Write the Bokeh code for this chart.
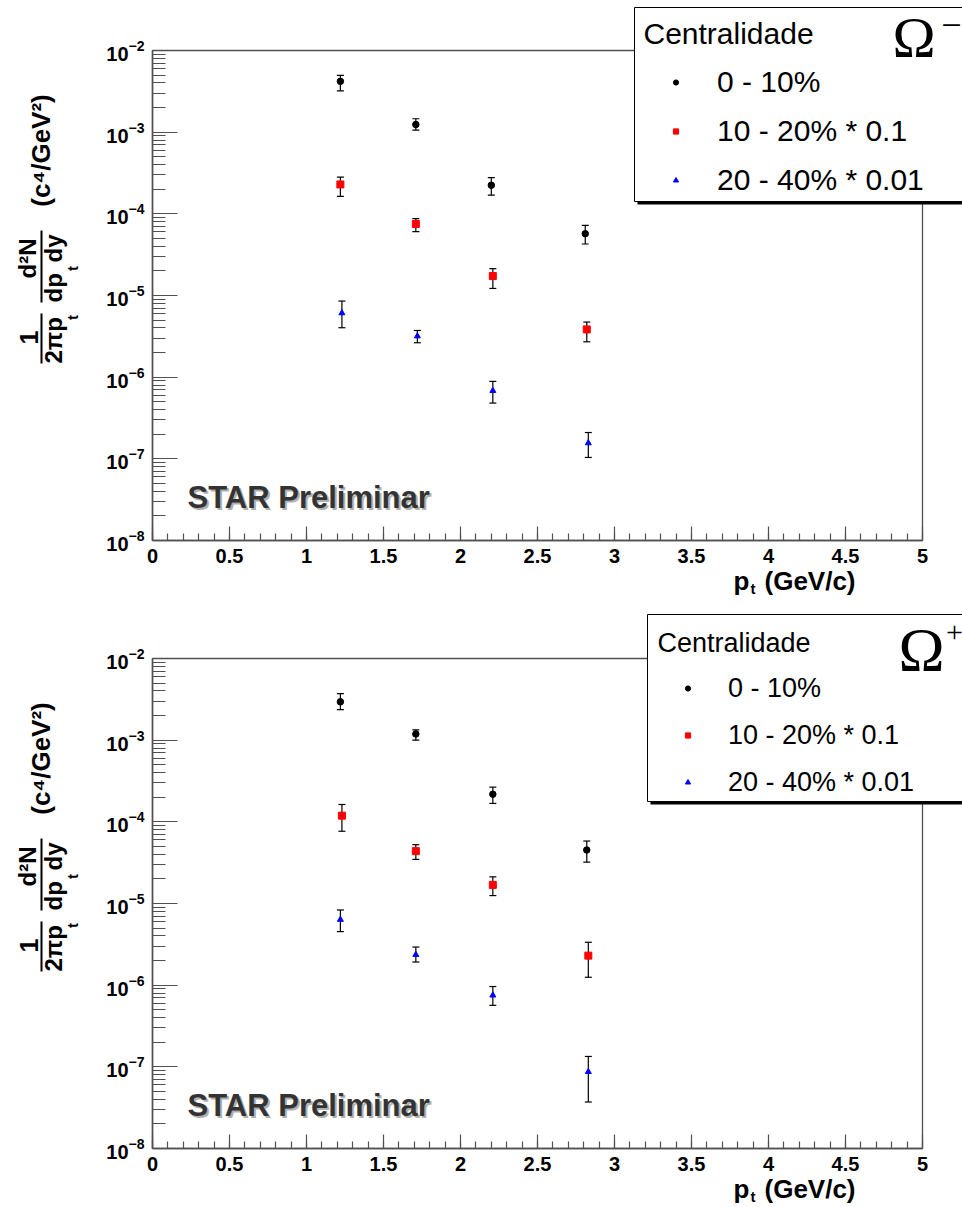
import math
from bokeh.plotting import figure
from bokeh.layouts import column
from bokeh.models import (Range1d, FixedTicker, Whisker, TeeHead, ColumnDataSource,
                          Label, BoxAnnotation, Legend, LegendItem, NumeralTickFormatter,
                          LinearAxis, LogAxis)
from bokeh.embed import file_html
from bokeh.resources import INLINE

# ---------------- data ----------------
x_ticks = [0, 0.5, 1, 1.5, 2, 2.5, 3, 3.5, 4, 4.5, 5]
y_ticks = [1e-8, 1e-7, 1e-6, 1e-5, 1e-4, 1e-3, 1e-2]
legend_labels = ["0 - 10%", "10 - 20% * 0.1", "20 - 40% * 0.01"]
legend_title = "Centralidade"

# Omega-minus (top panel)
om_pt_c0 = [1.22, 1.71, 2.20, 2.81]
om_c0 = [4.19e-3, 1.24e-3, 2.24e-4, 5.71e-5]
om_c0_hi = [4.97e-3, 1.46e-3, 2.77e-4, 7.23e-5]
om_c0_lo = [3.21e-3, 1.06e-3, 1.69e-4, 4.27e-5]
om_pt_c1 = [1.22, 1.71, 2.21, 2.82]
om_c1 = [2.29e-4, 7.52e-5, 1.73e-5, 3.84e-6]
om_c1_hi = [2.82e-4, 8.73e-5, 2.13e-5, 4.73e-6]
om_c1_lo = [1.64e-4, 6.05e-5, 1.22e-5, 2.71e-6]
om_pt_c2 = [1.23, 1.72, 2.21, 2.83]
om_c2 = [6.10e-6, 3.18e-6, 6.83e-7, 1.56e-7]
om_c2_hi = [8.55e-6, 3.73e-6, 8.88e-7, 2.10e-7]
om_c2_lo = [4.03e-6, 2.64e-6, 4.82e-7, 1.04e-7]

# Omega-plus (bottom panel)
op_pt_c0 = [1.22, 1.71, 2.21, 2.82]
op_c0 = [2.95e-3, 1.19e-3, 2.18e-4, 4.52e-5]
op_c0_hi = [3.71e-3, 1.34e-3, 2.66e-4, 5.82e-5]
op_c0_lo = [2.36e-3, 1.00e-3, 1.68e-4, 3.21e-5]
op_pt_c1 = [1.23, 1.71, 2.21, 2.83]
op_c1 = [1.19e-4, 4.38e-5, 1.69e-5, 2.30e-6]
op_c1_hi = [1.63e-4, 5.25e-5, 2.12e-5, 3.35e-6]
op_c1_lo = [7.67e-5, 3.47e-5, 1.25e-5, 1.25e-6]
op_pt_c2 = [1.22, 1.71, 2.21, 2.83]
op_c2 = [6.35e-6, 2.36e-6, 7.52e-7, 8.69e-8]
op_c2_hi = [8.33e-6, 2.93e-6, 9.62e-7, 1.34e-7]
op_c2_lo = [4.53e-6, 1.92e-6, 5.66e-7, 3.71e-8]

FONT = "Liberation Sans"
SERIF = "Liberation Serif"
AX = "#505050"

# layout (pixels): plot box inside each figure
W = 962
BOX_L, BOX_R = 152, 922          # x = 0 .. 5
BOX_T, BOX_B = 50, 540           # y = 1e-2 .. 1e-8 (from figure top)
PX_X = (BOX_R - BOX_L) / 5.0
PX_DEC = (BOX_B - BOX_T) / 6.0


def panel(H, series, leg, omega):
    ox, oy = BOX_L, H - BOX_B   # offsets: plot-box-relative -> frame screen units

    def lab(x, y, text, size, bold=True, angle=0.0, align="left", baseline="middle",
            color="black", font=FONT):
        p.add_layout(Label(x=x + ox, y=y + oy, x_units="screen", y_units="screen",
                           text=text, angle=angle, text_font=font,
                           text_font_style="bold" if bold else "normal",
                           text_font_size=f"{size}px", text_align=align,
                           text_baseline=baseline, text_color=color))

    def sbox(l, r, b, t, fill, line=None, lw=1):
        p.add_layout(BoxAnnotation(left=l + ox, right=r + ox, bottom=b + oy, top=t + oy,
                                   left_units="screen", right_units="screen",
                                   bottom_units="screen", top_units="screen",
                                   fill_color=fill, fill_alpha=1.0,
                                   line_color=line if line else "black",
                                   line_alpha=1.0 if line else 0.0,
                                   line_width=lw, level="annotation"))

    x0 = -BOX_L / PX_X
    x1 = 5 + (W - BOX_R) / PX_X
    ytop = 10 ** (-2 + BOX_T / PX_DEC)
    ybot = 10 ** (-8 - (H - BOX_B) / PX_DEC)
    p = figure(width=W, height=H, x_range=Range1d(x0, x1),
               y_range=Range1d(ybot, ytop), y_axis_type="log",
               x_axis_location=None, y_axis_location=None,
               output_backend="svg", toolbar_location=None, min_border=0)
    p.min_border_left = p.min_border_right = p.min_border_top = p.min_border_bottom = 0
    p.grid.visible = False
    p.outline_line_color = None
    p.background_fill_color = "white"
    p.border_fill_color = "white"

    # plot box
    p.add_layout(BoxAnnotation(left=0, right=5, bottom=1e-8, top=1e-2, fill_alpha=0,
                               line_color=AX, line_alpha=1.0, line_width=1.3,
                               level="underlay"))

    xa = LinearAxis(fixed_location=1e-8, bounds=(0, 5),
                    ticker=FixedTicker(ticks=x_ticks,
                                       minor_ticks=[i / 10 for i in range(0, 51)]),
                    formatter=NumeralTickFormatter(format="0.[0]"))
    ya = LogAxis(fixed_location=0, bounds=(1e-8, 1e-2),
                 ticker=FixedTicker(ticks=y_ticks,
                                    minor_ticks=[m * 10.0 ** e for e in range(-8, -2)
                                                 for m in range(2, 10)]))
    for a in (xa, ya):
        a.axis_line_color = AX
        a.axis_line_width = 1.5
        a.major_tick_line_color = AX
        a.minor_tick_line_color = AX
        a.major_tick_line_width = 1.2
        a.minor_tick_line_width = 1.2
        a.major_tick_out = 0
        a.minor_tick_out = 0
        a.major_label_text_font = FONT
        a.major_label_text_font_style = "bold"
        a.major_label_text_font_size = "20px"
        a.major_label_text_color = "black"
    xa.major_tick_in = 14
    xa.minor_tick_in = 7
    xa.major_label_standoff = 8
    ya.major_tick_in = 25
    ya.minor_tick_in = 13
    ya.major_label_standoff = 8
    p.add_layout(xa, "below")
    p.add_layout(ya, "left")

    styles = [("circle", "black", 6.5), ("square", "red", 7), ("triangle", "blue", 6)]
    rends = []
    for (xs, ys, hi, lo), (mk, col, sz) in zip(series, styles):
        src = ColumnDataSource(dict(x=xs, y=ys, hi=hi, lo=lo))
        p.add_layout(Whisker(base="x", upper="hi", lower="lo", source=src,
                             line_color="black", line_width=1.2,
                             upper_head=TeeHead(size=7, line_color="black", line_width=1.2),
                             lower_head=TeeHead(size=7, line_color="black", line_width=1.2)))
        r = p.scatter("x", "y", source=src, marker=mk, size=sz, fill_color=col,
                      line_color=col)
        rends.append(r)

    # y-axis title (built from pieces)
    R = math.pi / 2
    lab(-124, 203, "1", 25, angle=R, align="center")
    sbox(-112, -110, 177, 227, "black")
    lab(-99, 177, "2πp", 24, angle=R, align="left")
    lab(-80, 223, "t", 15, angle=R, align="center")
    lab(-125, 282, "d²N", 24, angle=R, align="center")
    sbox(-112, -110, 238, 310, "black")
    lab(-99, 238, "dp", 24, angle=R, align="left")
    lab(-80, 272, "t", 15, angle=R, align="center")
    lab(-99, 278, "dy", 24, angle=R, align="left")
    lab(-112, 390, "(c⁴/GeV²)", 26, angle=R, align="center")

    # x-axis title
    lab(581, -40, "p", 26)
    lab(598, -48, "t", 15)
    lab(612, -40, "(GeV/c)", 26)

    # STAR Preliminar
    lab(37, 41, "STAR Preliminar", 31, color="#b0b0b0")
    lab(35, 43, "STAR Preliminar", 31, color="#333333")

    # legend box + shadow
    bl, bb, bt, tx, ty, fs, lx, ly, ih, sp, stand = leg
    sbox(bl + 3, 815, bb - 3, bt - 3, "black")
    sbox(bl, 815, bb, bt, "white", line="black", lw=1)
    lab(tx, ty, legend_title, fs, bold=False)
    items = [LegendItem(label=t, renderers=[r]) for t, r in zip(legend_labels, rends)]
    lg = Legend(items=items, location=(lx + ox, ly + oy), orientation="vertical",
                glyph_width=13, glyph_height=ih, label_height=ih, spacing=sp,
                padding=0, margin=0, label_standoff=stand,
                label_text_font=FONT, label_text_font_size=f"{fs}px",
                label_text_color="black",
                border_line_alpha=0, background_fill_alpha=0)
    p.add_layout(lg)

    # Omega symbol
    oxx, oyy, osz, sx_, sy_, ssz, stext = omega
    lab(oxx, oyy, "Ω", osz, bold=False, font=SERIF)
    lab(sx_, sy_, stext, ssz, bold=False, align="center", font=SERIF)
    return p


top = panel(608,
            [(om_pt_c0, om_c0, om_c0_hi, om_c0_lo),
             (om_pt_c1, om_c1, om_c1_hi, om_c1_lo),
             (om_pt_c2, om_c2, om_c2_hi, om_c2_lo)],
            (482, 339, 533, 491, 507, 30, 517, 342, 36, 13, 35),
            (740, 503, 58, 799, 516, 36, "−"))

bot = panel(598,
            [(op_pt_c0, op_c0, op_c0_hi, op_c0_lo),
             (op_pt_c1, op_c1, op_c1_hi, op_c1_lo),
             (op_pt_c2, op_c2, op_c2_hi, op_c2_lo)],
            (495, 347, 534, 505, 506, 27, 529, 350, 32, 15, 34),
            (746, 500, 62, 802, 516, 30, "+"))

layout = column(top, bot, spacing=0)
open("out.html", "w").write(file_html(layout, INLINE))
